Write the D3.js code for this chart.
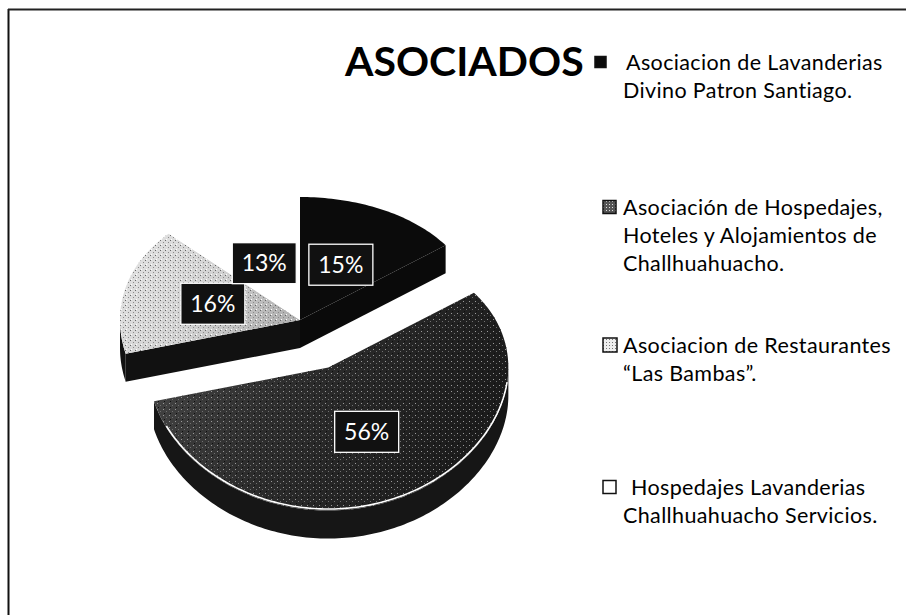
<!DOCTYPE html>
<html><head><meta charset="utf-8">
<script src="https://cdn.jsdelivr.net/npm/d3@7"></script>
<style>body{margin:0;background:#fff}svg{display:block}</style></head>
<body>
<svg id="c" width="906" height="615"></svg>
<script>
// ---- data ----
const categories = [
  "Asociacion de Lavanderias Divino Patron Santiago.",
  "Asociación de Hospedajes, Hoteles y Alojamientos de Challhuahuacho.",
  "Asociacion de Restaurantes “Las Bambas”.",
  "Hospedajes Lavanderias Challhuahuacho Servicios."
];
const values = [15, 56, 16, 13];
const valueLabels = ["15%", "56%", "16%", "13%"];
const legendLines = [
  ["Asociacion de Lavanderias", "Divino Patron Santiago."],
  ["Asociación de Hospedajes,", "Hoteles y Alojamientos de", "Challhuahuacho."],
  ["Asociacion de Restaurantes", "“Las Bambas”."],
  ["Hospedajes Lavanderias", "Challhuahuacho Servicios."]
];
const exploded = [false, true, false, false];
const title = "ASOCIADOS";

// ---- styles ----
const topFill = ["#0b0b0b", "url(#darkGrad)", "url(#lightGrad)", "#ffffff"];
const topOverlay = [null, "url(#darkPat)", "url(#lightPat)", null];
const wallFill = ["#0a0a0a", "#161616", "#111111", "#111111"];

const svg = d3.select("#c");
const defs = svg.append("defs");
const dg = defs.append("linearGradient").attr("id", "darkGrad").attr("x1", 0).attr("y1", 0).attr("x2", 1).attr("y2", 0.3);
dg.append("stop").attr("offset", 0).attr("stop-color", "#4a4a4a");
dg.append("stop").attr("offset", 0.45).attr("stop-color", "#2e2e2e");
dg.append("stop").attr("offset", 1).attr("stop-color", "#1c1c1c");
const lg = defs.append("linearGradient").attr("id", "lightGrad").attr("x1", 0).attr("y1", 0).attr("x2", 1).attr("y2", 0.4);
lg.append("stop").attr("offset", 0).attr("stop-color", "#e4e4e4");
lg.append("stop").attr("offset", 0.6).attr("stop-color", "#d2d2d2");
lg.append("stop").attr("offset", 1).attr("stop-color", "#b4b4b4");
const dp = defs.append("pattern").attr("id", "darkPat").attr("width", 6).attr("height", 6).attr("patternUnits", "userSpaceOnUse");
dp.append("rect").attr("x", 1).attr("y", 1).attr("width", 1).attr("height", 1).attr("fill", "#9a9a9a");
dp.append("rect").attr("x", 4).attr("y", 3).attr("width", 1).attr("height", 1).attr("fill", "#707070");
dp.append("rect").attr("x", 2).attr("y", 5).attr("width", 1).attr("height", 1).attr("fill", "#0e0e0e");
const lp = defs.append("pattern").attr("id", "lightPat").attr("width", 5).attr("height", 5).attr("patternUnits", "userSpaceOnUse");
lp.append("rect").attr("x", 0).attr("y", 0).attr("width", 1).attr("height", 1).attr("fill", "#666");
lp.append("rect").attr("x", 3).attr("y", 2).attr("width", 1).attr("height", 1).attr("fill", "#888");
lp.append("rect").attr("x", 1).attr("y", 4).attr("width", 1).attr("height", 1).attr("fill", "#fff");
const mp = defs.append("pattern").attr("id", "markDark").attr("width", 3).attr("height", 3).attr("patternUnits", "userSpaceOnUse");
mp.append("rect").attr("width", 3).attr("height", 3).attr("fill", "#555");
mp.append("rect").attr("width", 1).attr("height", 1).attr("fill", "#ddd");
const ml = defs.append("pattern").attr("id", "markLight").attr("width", 3).attr("height", 3).attr("patternUnits", "userSpaceOnUse");
ml.append("rect").attr("width", 3).attr("height", 3).attr("fill", "#eee");
ml.append("rect").attr("width", 1).attr("height", 1).attr("fill", "#777");

// frame
svg.append("line").attr("x1", 8.5).attr("y1", 9).attr("x2", 8.5).attr("y2", 615).attr("stroke", "#111").attr("stroke-width", 2);
svg.append("line").attr("x1", 8).attr("y1", 9.5).attr("x2", 906).attr("y2", 9.5).attr("stroke", "#222").attr("stroke-width", 2);

// title
svg.append("text").attr("x", 345).attr("y", 76)
  .attr("font-family", "Lato, 'Open Sans', sans-serif").attr("font-weight", 700)
  .attr("font-size", 41).attr("fill", "#000").text(title);

// ---- 3D pie geometry ----
const cx = 300, cy = 320, rx = 180, ry = 133, bend = 10, depth = 28, explode = 0.37;
const proj = (c, t) => [c[0] + rx * Math.sin(t), c[1] - ry * Math.cos(t) + bend * Math.cos(t) ** 2];
const arcPts = (c, t1, t2) => {
  const n = Math.max(2, Math.ceil(Math.abs(t2 - t1) / 0.02));
  return d3.range(n + 1).map(i => proj(c, t1 + (t2 - t1) * i / n));
};
const line = d3.line();
const arcs = d3.pie().sort(null).value(d => d)(values);

const slices = arcs.map((a, i) => {
  const m = (a.startAngle + a.endAngle) / 2;
  const off = exploded[i] ? [explode * rx * Math.sin(m), explode * (-ry * Math.cos(m) + bend * Math.cos(m) ** 2)] : [0, 0];
  return { i, s: a.startAngle, e: a.endAngle, m, c: [cx + off[0], cy + off[1]] };
});

function drawGroup(group) {
  const g = svg.append("g");
  group.forEach(sl => {
    const n = slices.length;
    const prev = slices[(sl.i - 1 + n) % n], next = slices[(sl.i + 1) % n];
    if (exploded[prev.i] !== exploded[sl.i] && Math.sin(sl.s) < 0) {
      const p = proj(sl.c, sl.s);
      g.append("path").attr("d", line([sl.c, p, [p[0], p[1] + depth], [sl.c[0], sl.c[1] + depth]]) + "Z")
        .attr("fill", wallFill[sl.i]);
    }
    if (exploded[next.i] !== exploded[sl.i] && Math.sin(sl.e) > 0) {
      const p = proj(sl.c, sl.e);
      g.append("path").attr("d", line([sl.c, p, [p[0], p[1] + depth], [sl.c[0], sl.c[1] + depth]]) + "Z")
        .attr("fill", wallFill[sl.i]);
    }
    const a1 = Math.max(sl.s, Math.PI / 2), a2 = Math.min(sl.e, 3 * Math.PI / 2);
    if (a2 > a1) {
      const top = arcPts(sl.c, a1, a2);
      const bot = top.map(p => [p[0], p[1] + depth]).reverse();
      g.append("path").attr("d", line(top.concat(bot)) + "Z").attr("fill", wallFill[sl.i]);
    }
  });
  group.forEach(sl => {
    const d = line([sl.c].concat(arcPts(sl.c, sl.s, sl.e))) + "Z";
    g.append("path").attr("d", d).attr("fill", topFill[sl.i]);
    if (topOverlay[sl.i]) g.append("path").attr("d", d).attr("fill", topOverlay[sl.i]);
    if (exploded[sl.i]) {
      const a1 = Math.max(sl.s, Math.PI / 2 + 0.12), a2 = Math.min(sl.e, 3 * Math.PI / 2) - 0.2;
      if (a2 > a1) g.append("path").attr("d", line(arcPts(sl.c, a1, a2).map(p => [p[0], p[1] - 1.5])))
        .attr("fill", "none").attr("stroke", "#fff").attr("stroke-width", 1.6);
    }
  });
}
drawGroup(slices.filter(s => !exploded[s.i]));
drawGroup(slices.filter(s => exploded[s.i]));

// data labels
slices.forEach(sl => {
  const p = [sl.c[0] + 0.5 * rx * Math.sin(sl.m), sl.c[1] + 0.5 * (-ry * Math.cos(sl.m) + bend * Math.cos(sl.m) ** 2)];
  const w = 64, h = 41;
  svg.append("rect").attr("x", p[0] - w / 2).attr("y", p[1] - h / 2).attr("width", w).attr("height", h)
    .attr("fill", "#111").attr("stroke", "#fff").attr("stroke-width", 1.3);
  svg.append("text").attr("x", p[0]).attr("y", p[1] + 8).attr("text-anchor", "middle")
    .attr("font-family", "Lato, 'Open Sans', sans-serif").attr("font-size", 23).attr("fill", "#fff")
    .text(valueLabels[sl.i]);
});

// legend
const legendBase = [70, 215, 353, 495];
const lineGap = 28;
const markerX = [595, 603, 603, 603];
const markerSize = [11, 13, 14, 13];
const markerFill = ["#0b0b0b", "url(#markDark)", "url(#markLight)", "#ffffff"];
const firstDx = [3, 0, 0, 8];
const legFont = 21.5, refLineWidth = 254;
const probe = svg.append("text").attr("font-family", "Lato, 'Open Sans', sans-serif").attr("font-size", legFont)
  .text(legendLines[1][1]);
const w0 = probe.node().getComputedTextLength();
probe.remove();
const spacing = (refLineWidth - w0) / (legendLines[1][1].length);
legendLines.forEach((lines, i) => {
  const y0 = legendBase[i];
  svg.append("rect").attr("x", markerX[i]).attr("y", y0 - 8 - markerSize[i] / 2)
    .attr("width", markerSize[i]).attr("height", markerSize[i])
    .attr("fill", markerFill[i]).attr("stroke", "#111").attr("stroke-width", 1.5);
  lines.forEach((t, j) => {
    svg.append("text").attr("x", 623 + (j === 0 ? firstDx[i] : 0)).attr("y", y0 + j * lineGap)
      .attr("font-family", "Lato, 'Open Sans', sans-serif").attr("font-size", legFont)
      .attr("letter-spacing", spacing).attr("fill", "#000")
      .text(t);
  });
});
</script>
</body></html>
